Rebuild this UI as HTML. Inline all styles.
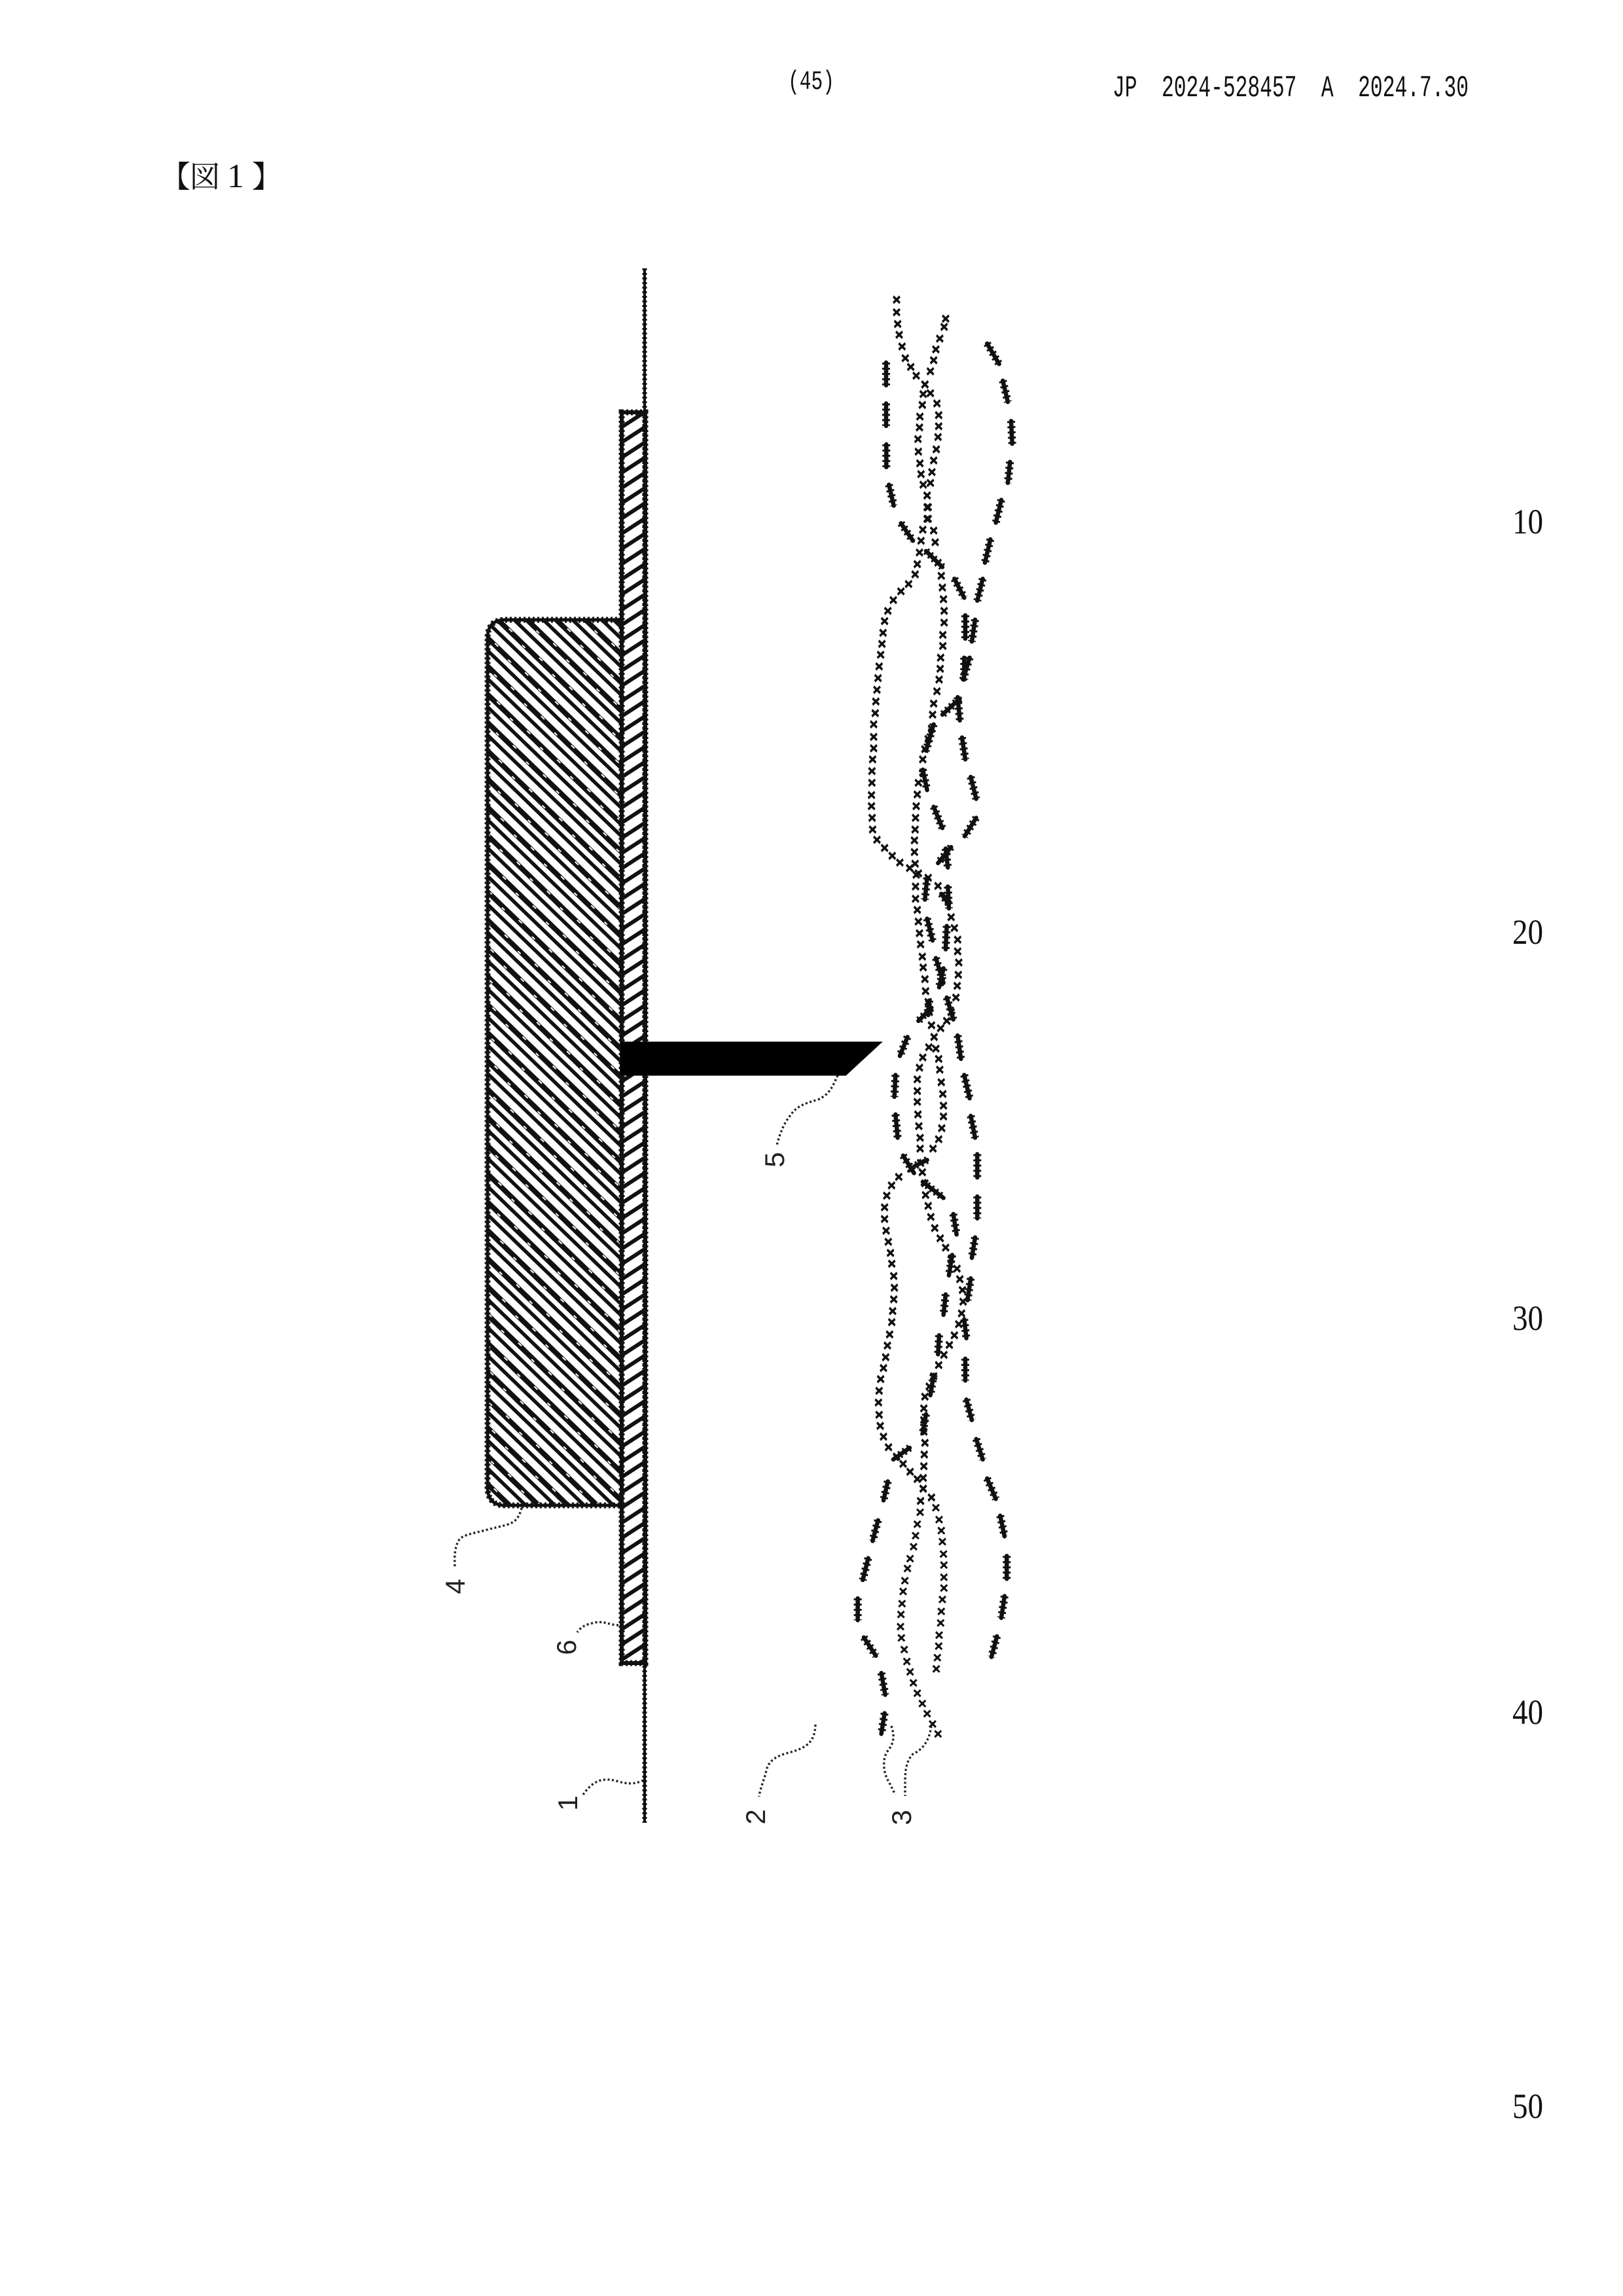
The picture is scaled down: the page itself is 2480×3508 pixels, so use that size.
<!DOCTYPE html>
<html lang="ja"><head><meta charset="utf-8"><title>JP 2024-528457 A 図1</title>
<style>
html,body{margin:0;padding:0;background:#fff}
svg{display:block}
#d1,#d2,#d3,#d4{vector-effect:non-scaling-stroke}
.d{fill:none;stroke:#111;stroke-width:6.5;stroke-linecap:round}
.d2{fill:none;stroke:#111;stroke-width:12;stroke-dasharray:3 5}
.s{fill:none;stroke:none;marker-start:url(#m);marker-mid:url(#m);marker-end:url(#m)}
.s4{fill:none;stroke:none;marker-start:url(#n);marker-mid:url(#n);marker-end:url(#n)}
.l{fill:none;stroke:#222;stroke-width:3.4;stroke-dasharray:3 3.6}
.j{fill:none;stroke:#111;stroke-width:5}
.j2{fill:none;stroke:#111;stroke-width:9;stroke-dasharray:3 4}
.n{font-family:"Liberation Sans",sans-serif;font-size:42px;fill:#222;text-anchor:middle}
.r{font-family:"Liberation Serif",serif;font-size:54px;fill:#111}
.h{font-family:"Liberation Mono",monospace;font-size:46px;fill:#111}
.c{font-family:"Liberation Serif","Noto Serif CJK SC",serif;font-size:46px;fill:#111}
</style></head><body>
<svg xmlns="http://www.w3.org/2000/svg" width="2480" height="3508" viewBox="0 0 2480 3508">
<defs>
<marker id="m" markerUnits="userSpaceOnUse" markerWidth="1" markerHeight="1" style="overflow:visible"><path d="M-15-11L15 11M15-11L-15 11" stroke="#111" stroke-width="9" fill="none"/><path d="M-8 0L0-6L8 0L0 6Z" fill="#111"/></marker>
<marker id="n" markerUnits="userSpaceOnUse" markerWidth="1" markerHeight="1" style="overflow:visible"><path d="M-15-14L15 14M15-14L-15 14" stroke="#111" stroke-width="9" fill="none"/><path d="M-8 0L0-8L8 0L0 8Z" fill="#111"/></marker>
<pattern id="hb" patternUnits="userSpaceOnUse" width="64" height="31" patternTransform="rotate(44 745 947)">
<rect x="0" y="2" width="64" height="8" fill="#111"/><rect x="0" y="17" width="64" height="5.5" fill="#111"/>
<rect x="10" y="3" width="7" height="2" fill="#fff"/><rect x="42" y="7" width="6" height="2" fill="#fff"/>
</pattern>
<pattern id="hs" patternUnits="userSpaceOnUse" width="60" height="19.5" patternTransform="rotate(-33 950 628)">
<rect x="0" y="2" width="60" height="6" fill="#111"/>
</pattern>
<path id="d1" d="M462 300L462 378M462 440L462 517M463 580L463 658M475 718L497 790M530 850L585 910M645 945L720 1000M775 1040L820 1105M825 1165L825 1245M870 1180L855 1255M820 1310L820 1385M845 1310L815 1385M800 1450L720 1505M790 1445L800 1525M925 235L980 305M997 362L1020 435M1035 500L1040 578M1030 640L1020 712M990 770L965 848M940 905L915 985M905 1040L880 1115"/>
<path id="d2" d="M680 15L645 105M810 60L825 135M630 170L650 240M850 195L875 270M680 297L720 370M875 335L822 398M760 435L700 490M735 440L745 505M650 540L640 615M745 570L750 645M715 595L750 630M650 680L675 755M740 705L735 785M690 815L725 900M725 850L705 915M740 950L770 1025M660 960L655 1010M670 985L610 1030M560 1085L525 1150M790 1080L805 1160M505 1215L500 1290M820 1215L845 1295M505 1350L515 1430M850 1355L870 1430"/>
<path id="d3" d="M880 30L880 110M540 35L590 95M650 50L595 70M630 125L725 180M770 235L785 305M880 175L880 250M870 315L855 385M765 375L750 445M850 455L835 530M735 510L725 580M820 595L830 660M705 650L700 715M825 730L825 805M680 785L665 855M830 870L855 940M645 920L630 985M875 1005L905 1075M570 1035L495 1075M925 1140L965 1210M470 1150L450 1215"/>
<path id="d4" d="M985 45L1005 135M1015 220L1015 320M1005 395L990 490M970 570L945 660M425 65L400 155M380 230L355 325M332 405L332 500M360 575L415 655M440 730L458 825M455 905L440 995"/>
</defs>
<rect width="2480" height="3508" fill="#fff"/>

<text class="h" x="1204" y="136" textLength="71" lengthAdjust="spacingAndGlyphs" style="font-size:41px">(45)</text>
<text class="h" x="1700" y="147" textLength="544" lengthAdjust="spacingAndGlyphs" xml:space="preserve">JP  2024-528457  A  2024.7.30</text>
<text class="c" x="245" y="286">【</text><text class="c" x="290" y="286">図</text><text class="c" x="347" y="286" style="font-size:52px">1</text><text class="c" x="385" y="286">】</text>

<text class="r" x="2311" y="815" textLength="47" lengthAdjust="spacingAndGlyphs">10</text>
<text class="r" x="2311" y="1442" textLength="47" lengthAdjust="spacingAndGlyphs">20</text>
<text class="r" x="2311" y="2032" textLength="47" lengthAdjust="spacingAndGlyphs">30</text>
<text class="r" x="2311" y="2634" textLength="47" lengthAdjust="spacingAndGlyphs">40</text>
<text class="r" x="2311" y="3236" textLength="47" lengthAdjust="spacingAndGlyphs">50</text>

<!-- resin block 4 -->
<path d="M950 947H772Q745 947 745 975V2272Q745 2300 772 2300H950Z" fill="url(#hb)"/>
<path class="j" d="M950 947H772Q745 947 745 975V2272Q745 2300 772 2300H950"/>
<path class="j2" d="M950 947H772Q745 947 745 975V2272Q745 2300 772 2300H950"/>
<!-- layer 6 -->
<rect x="950" y="630" width="36" height="1911" fill="url(#hs)"/>
<rect class="j" x="950" y="630" width="36" height="1911" style="stroke-width:6"/>
<rect class="j2" x="950" y="630" width="36" height="1911"/>
<!-- film 1 -->
<path d="M985 410V2785" fill="none" stroke="#111" stroke-width="4"/>
<path d="M985 410V2785" fill="none" stroke="#111" stroke-width="7" stroke-dasharray="3 4"/>
<!-- wedge 5 -->
<path d="M950 1593H1345L1292 1642H950Z" fill="#000" stroke="#000" stroke-width="3"/>

<!-- strands -->
<g transform="translate(1200 420) scale(.33333 .44643)">
<polyline class="s" points="510,85 510,128 515,168 522,205 535,245 550,285 575,315 600,345 640,375 665,405 695,440 703,480 703,518 700,555 692,597 680,635 672,675 665,712 650,755 650,795 650,835 630,872 622,910 615,950 605,990 595,1025 565,1058 530,1083 495,1113 470,1150 455,1185 448,1225 443,1263 437,1300 430,1340 425,1380 420,1420 415,1460 412,1500"/>
<polyline class="s" points="735,150 728,178 708,218 690,255 680,292 665,330 640,375 632,408 628,445 617,485 615,522 608,562 610,605 617,645 622,682 632,718 650,755 655,795 655,835 680,875 687,915 700,985 715,1030 720,1070 725,1110 728,1150 728,1190 722,1232 722,1270 712,1310 710,1348 705,1385 695,1425 680,1467 675,1505"/>
<g class="d"><use href="#d1"/></g><g class="d2"><use href="#d1"/></g>
</g>
<g transform="translate(1200 1100) scale(.33333 .44643)">
<polyline class="s" points="405,15 405,58 405,97 400,135 397,175 397,215 395,257 395,295 398,335 400,375 420,410 455,438 490,465 525,488 570,507 600,530 597,570 597,612 605,650 610,690 615,730 620,768 628,810 632,847 640,887 643,928 655,965 660,1000 670,1045 682,1085 690,1125 703,1160 708,1197 715,1240 722,1280 725,1320 725,1357 717,1397 703,1435 677,1467"/>
<polyline class="s" points="670,30 655,65 640,100 630,135 630,180 610,215 605,255 600,295 597,335 595,375 592,412 592,452 595,492 610,525 655,540 700,568 735,605 760,675 775,712 790,752 790,792 795,830 793,872 788,910 782,950 760,1000 740,1030 712,1055 682,1085 658,1120 630,1155 615,1190 605,1230 605,1270 605,1307 608,1350 612,1390 618,1430 618,1467"/>
<g class="d"><use href="#d2"/></g><g class="d2"><use href="#d2"/></g>
</g>
<g transform="translate(1200 1750) scale(.33333 .44643)">
<polyline class="s" points="620,60 575,80 520,108 487,137 465,172 455,212 455,252 462,292 472,330 482,368 488,405 497,447 500,487 497,527 492,567 488,605 478,647 468,685 460,725 450,762 437,800 430,840 427,880 430,922 435,960 450,997 473,1033 510,1065 540,1090 572,1117 605,1142 632,1175 670,1205"/>
<polyline class="s" points="628,92 640,130 643,170 655,207 667,245 685,283 710,318 735,350 760,390 787,422 800,458 812,495 815,535 808,575 795,612 775,650 752,683 727,717 703,752 680,790 660,825 640,860 635,900 635,940 635,980 640,1018 637,1058 635,1098 632,1138 632,1175 620,1217"/>
<g class="d"><use href="#d3"/></g><g class="d2"><use href="#d3"/></g>
</g>
<g transform="translate(1200 2300) scale(.33333 .35089)">
<polyline class="s4" points="690,10 705,62 715,110 720,158 725,212 727,260 727,313 727,360 720,410 715,462 712,512 705,565 703,613 697,663 692,712"/>
<polyline class="s4" points="618,30 605,82 597,132 588,180 572,232 560,275 548,328 540,375 535,428 530,475 528,528 532,577 545,628 557,680 572,725 587,773 605,818 628,863 650,907 675,952 700,995"/>
<g class="d"><use href="#d4"/></g><g class="d2"><use href="#d4"/></g>
</g>

<!-- leaders -->
<path class="l" d="M797 2304C790 2330 780 2328 745 2337C715 2345 706 2345 700 2355C693 2370 695 2385 695 2396"/>
<path class="l" d="M945 2483C930 2483 922 2475 905 2480C890 2483 885 2490 882 2494"/>
<path class="l" d="M983 2720C970 2726 960 2726 945 2722C920 2714 905 2722 891 2742"/>
<path class="l" d="M1246 2635C1245 2660 1235 2670 1205 2678C1180 2684 1172 2695 1170 2710C1165 2725 1160 2740 1160 2745"/>
<path class="l" d="M1280 1643C1272 1660 1268 1672 1250 1680C1225 1687 1215 1692 1205 1708C1195 1720 1188 1745 1187 1750"/>
<path class="l" d="M1362 2637C1368 2655 1365 2665 1355 2677C1348 2690 1350 2710 1358 2722L1368 2742"/>
<path class="l" d="M1423 2637C1420 2660 1410 2673 1395 2680C1385 2690 1383 2705 1383 2722L1383 2744"/>

<!-- numerals (rotated) -->
<text class="n" transform="translate(710 2424) rotate(-90)" x="0" y="0">4</text>
<text class="n" transform="translate(880 2517) rotate(-90)" x="0" y="0">6</text>
<text class="n" transform="translate(882 2755) rotate(-90)" x="0" y="0">1</text>
<text class="n" transform="translate(1169 2776) rotate(-90)" x="0" y="0">2</text>
<text class="n" transform="translate(1198 1772) rotate(-90)" x="0" y="0">5</text>
<text class="n" transform="translate(1392 2777) rotate(-90)" x="0" y="0">3</text>
</svg>
</body></html>
